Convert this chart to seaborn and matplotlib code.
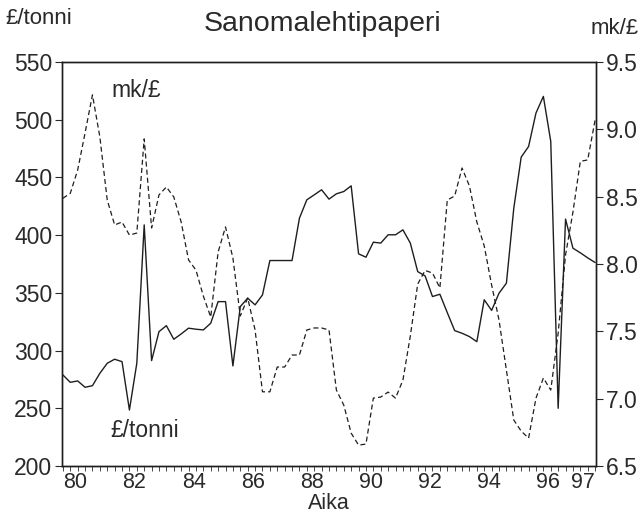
import numpy as np
import pandas as pd
import matplotlib
matplotlib.use("Agg")
import matplotlib.pyplot as plt
import seaborn as sns

# Quarterly series, starting 1979 Q3
price_gbp_per_tonne = [
    278.9, 272.5, 273.7, 268.2, 269.6, 280.3, 289.0, 292.5, 290.4, 248.5,
    289.0, 408.9, 291.3, 316.4, 321.6, 309.8, 314.4, 319.4, 318.5, 317.9,
    323.7, 342.4, 342.4, 286.7, 338.1, 345.4, 339.6, 348.2, 378.0, 378.0,
    378.0, 378.0, 414.7, 430.6, 434.9, 439.3, 431.2, 435.8, 437.8, 442.7,
    383.8, 380.9, 393.9, 393.1, 400.3, 400.3, 404.6, 393.1, 368.4, 364.7,
    346.8, 348.8, 332.9, 317.3, 315.0, 312.1, 307.7, 344.0, 334.8, 349.7,
    358.4, 423.4, 467.6, 476.8, 505.8, 520.2, 481.2, 250.0, 413.9, 388.7,
    384.7, 380.3, 376.3,
]
mk_per_gbp = [
    8.488, 8.525, 8.698, 8.973, 9.256, 8.944, 8.475, 8.290, 8.312, 8.215,
    8.230, 8.929, 8.267, 8.513, 8.572, 8.498, 8.312, 8.030, 7.955, 7.762,
    7.606, 8.089, 8.275, 8.045, 7.614, 7.747, 7.510, 7.051, 7.051, 7.235,
    7.235, 7.324, 7.324, 7.510, 7.525, 7.525, 7.510, 7.064, 6.952, 6.744,
    6.655, 6.663, 7.004, 7.012, 7.049, 7.004, 7.138, 7.465, 7.851, 7.952,
    7.933, 7.822, 8.475, 8.505, 8.713, 8.579, 8.312, 8.134, 7.844, 7.584,
    7.212, 6.841, 6.759, 6.707, 7.004, 7.153, 7.064, 7.487, 8.067, 8.386,
    8.762, 8.773, 9.070,
]
start_year = 79.58
year_ticks = [80, 82, 84, 86, 88, 90, 92, 94, 96, 97.17]
year_labels = ["80", "82", "84", "86", "88", "90", "92", "94", "96", "97"]
left_ticks = [200, 250, 300, 350, 400, 450, 500, 550]
right_ticks = [6.5, 7.0, 7.5, 8.0, 8.5, 9.0, 9.5]

time = start_year + 0.25 * np.arange(len(price_gbp_per_tonne))
df = pd.DataFrame({"Aika": time, "price": price_gbp_per_tonne, "rate": mk_per_gbp})

sns.set_style("ticks")
plt.rcParams["font.family"] = ["Liberation Sans", "DejaVu Sans"]
txt = "#2a2a2a"
line_c = "#1e1e1e"
fs = 16.5

fig = plt.figure(figsize=(6.44, 5.21), dpi=100)
ax = fig.add_axes([62 / 644, 1 - 466 / 521, (596 - 62) / 644, (466 - 62) / 521])
sns.lineplot(data=df, x="Aika", y="price", ax=ax, color=line_c, lw=1.0)
ax2 = ax.twinx()
sns.lineplot(data=df, x="Aika", y="rate", ax=ax2, color=line_c, lw=0.9,
             linestyle=(0, (4, 2.5)))

ax.set_xlim(time[0] - 0.03, time[-1] + 0.03)
ax.set_ylim(200, 550)
ax2.set_ylim(6.5, 9.5)

ax.set_xticks(year_ticks)
ax.set_xticklabels(year_labels)
ax.set_xticks(time, minor=True)
ax.set_yticks(left_ticks)
ax.set_yticklabels([str(v) for v in left_ticks])
ax2.set_yticks(right_ticks)
ax2.set_yticklabels([f"{v:.1f}" for v in right_ticks])

for a in (ax, ax2):
    for s in a.spines.values():
        s.set_visible(True)
        s.set_color(line_c)
        s.set_linewidth(1.0)
    a.tick_params(axis="both", which="major", labelsize=fs, colors=txt,
                  length=5, width=0.8, pad=2)
    a.tick_params(axis="x", which="minor", length=3.5, width=0.6, color=txt)
ax.tick_params(axis="x", which="major", length=0, pad=4, labelsize=15.5)

ax.set_xlabel("Aika", fontsize=15.5, color=txt, labelpad=0)
ax.set_ylabel("")
ax2.set_ylabel("")

ax.text(82.05, 525, "mk/£", fontsize=fs, color=txt, ha="center", va="center")
ax.text(82.35, 231, "£/tonni", fontsize=fs, color=txt, ha="center", va="center")

fig.text(0.5, 1 - 24 / 521, "Sanomalehtipaperi", fontsize=20.5, color=txt,
         ha="center", va="center")
fig.text(5 / 644, 1 - 19 / 521, "£/tonni", fontsize=16, color=txt,
         ha="left", va="center")
fig.text(639 / 644, 1 - 29 / 521, "mk/£", fontsize=16, color=txt,
         ha="right", va="center")

fig.savefig("out.png", dpi=100)
